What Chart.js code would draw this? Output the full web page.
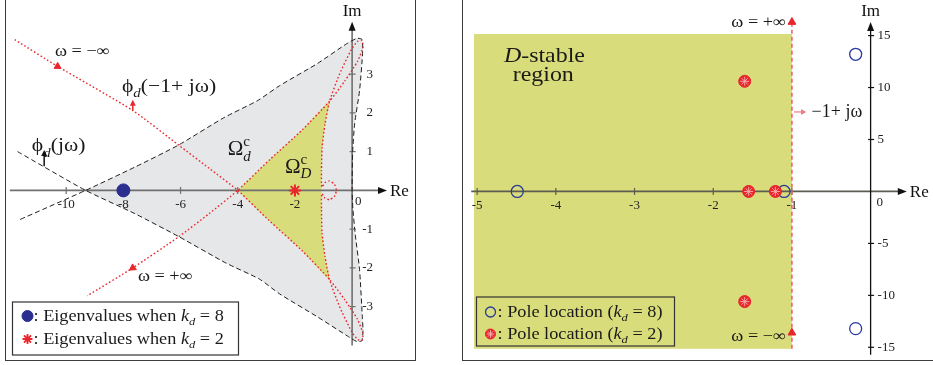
<!DOCTYPE html>
<html>
<head>
<meta charset="utf-8">
<script src="https://cdn.jsdelivr.net/npm/chart.js@4.4.1/dist/chart.umd.min.js"></script>
<style>
  html, body { margin: 0; padding: 0; background: #fff; }
  #wrap { position: relative; width: 933px; height: 365px; overflow: hidden; }
  canvas { position: absolute; top: 0; }
  #leftChart { left: 0; }
  #rightChart { left: 460px; }
  .frame { position: absolute; box-sizing: border-box; border: 1.5px solid #3c3c3c; pointer-events: none; }
</style>
</head>
<body>
<div id="wrap">
  <canvas id="leftChart" width="460" height="365"></canvas>
  <canvas id="rightChart" width="473" height="365"></canvas>
  <div class="frame" style="left:5px; top:-4px; width:411px; height:365px;"></div>
  <div class="frame" style="left:462px; top:-4px; width:480px; height:365px;"></div>
</div>
<script>
const SERIF = '"Liberation Serif", "Times New Roman", serif';
const TEXT_STRETCH = 1.14; // the serif labels run a bit wide

// ---- left plane: value sets of phi_d ----
const reTicksL = [-10, -8, -6, -4, -2];
const imTicksL = [3, 2, 1, -1, -2, -3];

// phi_d(jw), w from -inf to +inf (black dashed)
const phiJw = [
  [-11.7, 1.0], [-9.32, 0], [-7.6, -0.6], [-6.07, -1.19], [-4.4, -1.88],
  [-3.24, -2.29], [-2.54, -2.67], [-1.2, -3.27], [-0.16, -3.76], [0.16, -3.9],
  [0.34, -3.88], [0.38, -3.62], [0.36, -3.3], [0.26, -2.04], [0.12, -1.2],
  [0.03, -0.5], [0, 0], [0.02, 1.0], [0.09, 1.73], [0.26, 2.57],
  [0.37, 3.6], [0.34, 3.9], [0.16, 3.92], [-0.2, 3.78], [-1.2, 3.28],
  [-2.54, 2.7], [-3.3, 2.32], [-4.5, 1.87], [-6.07, 1.17], [-7.6, 0.6],
  [-9.32, 0], [-11.7, -0.78]
];

// phi_d(-1 + jw) (red dotted)
const phiShift = [
  [-11.8, 3.89], [-10.3, 3.2], [-7.67, 2.06], [-6.07, 1.17], [-5.0, 0.57],
  [-4, 0], [-2.9, -0.78], [-1.73, -1.57], [-0.79, -2.3], [-0.26, -2.82],
  [0.19, -3.33], [0.38, -3.7], [0.35, -3.87], [0.2, -3.85], [-0.02, -3.64],
  [-0.44, -3.0], [-0.79, -2.3], [-0.95, -1.7], [-1.05, -1.1], [-1.07, -0.5],
  [-1.06, -0.08], [-0.95, -0.2], [-0.8, -0.24], [-0.62, -0.16], [-0.55, 0],
  [-0.62, 0.16], [-0.8, 0.24], [-0.95, 0.2], [-1.06, 0.08], [-1.07, 0.5],
  [-1.05, 1.1], [-0.95, 1.7], [-0.79, 2.3], [-0.44, 3.0], [-0.02, 3.64],
  [0.2, 3.85], [0.35, 3.87], [0.38, 3.7], [0.19, 3.33], [-0.26, 2.82],
  [-0.79, 2.3], [-1.73, 1.57], [-2.9, 0.78], [-4, 0], [-5.0, -0.6],
  [-6.07, -1.2], [-7.67, -2.0], [-9.26, -2.72]
];

// boundary of Omega_D^c (yellow)
const omegaDBoundary = [
  [-4, 0], [-2.9, -0.78], [-1.73, -1.57], [-0.79, -2.3], [-0.95, -1.7],
  [-1.05, -1.1], [-1.07, -0.5], [-1.07, 0], [-1.07, 0.5], [-1.05, 1.1],
  [-0.95, 1.7], [-0.79, 2.3], [-1.73, 1.57], [-2.9, 0.78], [-4, 0]
];

const eigKd8 = [[-8, 0]];
const eigKd2 = [[-2, 0]];
const infArrowsL = [[-10.3, 3.2], [-7.67, -2.0]];
const infArrowRotL = [121, 236];

// ---- right plane: pole locations ----
const reTicksR = [-5, -4, -3, -2, -1];
const imTicksR = [15, 10, 5, -5, -10, -15];
const poleKd8 = [[-4.49, 0], [-1.1, 0], [-0.19, 13.2], [-0.19, -13.2]];
const poleKd2 = [[-1.6, 10.6], [-1.55, 0], [-1.21, 0], [-1.6, -10.6]];
const dStableRect = [[-5.04, -15.15], [-1, -15.15], [-1, 15.15], [-5.04, 15.15], [-5.04, -15.15]];
const shiftLine = [[-1, -15.15], [-1, 16.3]];
const shiftArrows = [[-1, 16.3], [-1, -13.6]];

const RED = '#e8262c';
const BLUE = '#2b2f8f';

const pts = arr => arr.map(([x, y]) => ({x, y}));

function richText(ctx, parts, x, y, size, align = 'left', sx = TEXT_STRETCH) {
  const runs = [];
  let cx = 0, supStart = null;
  for (const p of parts) {
    const [t, k] = typeof p === 'string' ? [p, ''] : p;
    const small = k.includes('sub') || k.includes('sup');
    const font = `${k.includes('it') ? 'italic ' : ''}${small ? Math.round(size * 0.7) : size}px ${SERIF}`;
    ctx.font = font;
    const w = ctx.measureText(t).width * sx;
    let start = cx;
    if (k.includes('sub') && supStart !== null) start = supStart;
    const dy = k.includes('sub') ? size * 0.28 : k.includes('sup') ? -size * 0.42 : 0;
    runs.push({t, font, x: start, dy});
    cx = Math.max(cx, start + w);
    supStart = k.includes('sup') ? start : null;
  }
  const x0 = align === 'center' ? x - cx / 2 : align === 'right' ? x - cx : x;
  ctx.textAlign = 'left';
  ctx.textBaseline = 'alphabetic';
  for (const r of runs) {
    ctx.save();
    ctx.font = r.font;
    ctx.translate(x0 + r.x, y + r.dy);
    ctx.scale(sx, 1);
    ctx.fillText(r.t, 0, 0);
    ctx.restore();
  }
  return cx;
}

function toPx(chart, re, im) {
  return [chart.scales.x.getPixelForValue(re), chart.scales.y.getPixelForValue(im)];
}

function seg(ctx, x1, y1, x2, y2) {
  ctx.beginPath(); ctx.moveTo(x1, y1); ctx.lineTo(x2, y2); ctx.stroke();
}

function drawAxes(chart, ax) {
  const ctx = chart.ctx, xs = chart.scales.x, ys = chart.scales.y;
  const x0 = xs.getPixelForValue(0), y0 = ys.getPixelForValue(0);
  const xt = xs.getPixelForValue(ax.reTo), yt = ys.getPixelForValue(ax.imTo);
  ctx.save();
  ctx.lineWidth = ax.width;
  ctx.strokeStyle = ax.reColor;
  seg(ctx, xs.getPixelForValue(ax.reFrom), y0, xt - 6, y0);
  ctx.lineWidth = ax.imWidth;
  ctx.strokeStyle = ax.imColor;
  seg(ctx, x0, ys.getPixelForValue(ax.imFrom), x0, yt + 6);

  ctx.fillStyle = '#111';
  ctx.beginPath(); ctx.moveTo(xt, y0); ctx.lineTo(xt - 9, y0 - 3.5); ctx.lineTo(xt - 9, y0 + 3.5); ctx.closePath(); ctx.fill();
  ctx.beginPath(); ctx.moveTo(x0, yt); ctx.lineTo(x0 - 3.5, yt + 9); ctx.lineTo(x0 + 3.5, yt + 9); ctx.closePath(); ctx.fill();

  ctx.lineWidth = 1.2;
  ctx.strokeStyle = ax.reColor;
  ax.reTicks.forEach(v => { const x = xs.getPixelForValue(v); seg(ctx, x, y0 - 3.5, x, y0 + 3.5); });
  ctx.strokeStyle = ax.imColor;
  ax.imTicks.forEach(v => { const y = ys.getPixelForValue(v); seg(ctx, x0 - 2.5, y, x0 + 3.5, y); });

  ctx.fillStyle = '#222';
  ctx.font = `${ax.tickSize}px ${SERIF}`;
  ctx.textBaseline = 'middle';
  ctx.textAlign = 'center';
  ax.reTicks.forEach(v => ctx.fillText(String(v), xs.getPixelForValue(v), y0 + 14));
  ctx.textAlign = ax.imAlign;
  ax.imTicks.forEach(v => ctx.fillText(String(v), x0 + ax.imLabelDx, ys.getPixelForValue(v)));
  ctx.textAlign = 'left';
  ctx.fillText('0', x0 + ax.zeroDx, y0 + 11);

  ctx.fillStyle = '#111';
  ctx.font = `17px ${SERIF}`;
  ctx.fillText('Re', xt + 3, y0 + 1);
  ctx.textAlign = 'center';
  ctx.fillText('Im', x0, yt - 10);
  ctx.restore();
}

function drawLegend(ctx, box, items) {
  ctx.save();
  if (box.fill) { ctx.fillStyle = box.fill; ctx.fillRect(box.x, box.y, box.w, box.h); }
  ctx.strokeStyle = '#333';
  ctx.lineWidth = 1.2;
  ctx.strokeRect(box.x, box.y, box.w, box.h);
  items.forEach(it => {
    it.symbol(ctx, box.x + box.symX, it.y);
    ctx.fillStyle = '#1a1a1a';
    richText(ctx, it.parts, box.x + box.textX, it.y + 5, 16);
  });
  ctx.restore();
}

function point(ctx, style, x, y) {
  ctx.save();
  ctx.fillStyle = style.fill || 'rgba(0,0,0,0)';
  ctx.strokeStyle = style.stroke || 'rgba(0,0,0,0)';
  ctx.lineWidth = style.width || 1;
  Chart.helpers.drawPoint(ctx, {pointStyle: style.pointStyle, radius: style.radius, rotation: 0, borderWidth: style.width || 1}, x, y);
  ctx.restore();
}

function normalArrow(ctx, x, y1, y2, color) {
  ctx.save();
  ctx.strokeStyle = color; ctx.fillStyle = color; ctx.lineWidth = 1.5;
  seg(ctx, x, y1, x, y2 + 4);
  ctx.beginPath(); ctx.moveTo(x, y2); ctx.lineTo(x - 3, y2 + 6); ctx.lineTo(x + 3, y2 + 6); ctx.closePath(); ctx.fill();
  ctx.restore();
}

const axesPlugin = {
  id: 'planeAxes',
  afterDatasetDraw(chart, args) {
    const ds = chart.data.datasets[args.index];
    if (ds.axesAfter) drawAxes(chart, chart.options.plugins.planeAxes);
  }
};

// ---------- left chart ----------
const leftLabels = {
  id: 'leftLabels',
  afterDatasetsDraw(chart) {
    const ctx = chart.ctx;
    ctx.save();
    ctx.fillStyle = '#1a1a1a';
    let p = toPx(chart, -10.39, 3.46);
    richText(ctx, ['ω = −∞'], p[0], p[1], 16);
    p = toPx(chart, -7.49, -2.34);
    richText(ctx, ['ω = +∞'], p[0], p[1], 16);
    p = toPx(chart, -8.05, 2.54);
    richText(ctx, ['ϕ', ['d', 'subit'], '(−1+ jω)'], p[0], p[1], 19);
    p = toPx(chart, -11.2, 1.01);
    richText(ctx, ['ϕ', ['d', 'subit'], '(jω)'], p[0], p[1], 19);
    p = toPx(chart, -4.35, 0.91);
    richText(ctx, ['Ω', ['c', 'sup'], ['d', 'subit']], p[0], p[1], 21, 'left', 1);
    p = toPx(chart, -2.35, 0.46);
    richText(ctx, ['Ω', ['c', 'sup'], ['D', 'subit']], p[0], p[1], 21, 'left', 1);

    let a = toPx(chart, -7.67, 2.06), b = toPx(chart, -7.67, 2.34);
    normalArrow(ctx, a[0], a[1], b[1], RED);
    a = toPx(chart, -10.77, 0.62); b = toPx(chart, -10.77, 1.04);
    normalArrow(ctx, a[0], a[1], b[1], '#111');

    drawLegend(ctx, {x: 12.5, y: 302, w: 226, h: 53, fill: '#fff', symX: 15, textX: 21}, [
      {y: 316, symbol: (c, x, y) => point(c, {pointStyle: 'circle', radius: 5.5, fill: BLUE, stroke: BLUE}, x, y),
       parts: [': Eigenvalues when ', ['k', 'it'], ['d', 'subit'], ' = 8']},
      {y: 339, symbol: (c, x, y) => point(c, {pointStyle: 'star', radius: 5, stroke: RED, width: 1.8}, x, y),
       parts: [': Eigenvalues when ', ['k', 'it'], ['d', 'subit'], ' = 2']}
    ]);
    ctx.restore();
  }
};

new Chart(document.getElementById('leftChart'), {
  type: 'line',
  data: {
    datasets: [
      {data: pts(phiJw.slice(1, -1)), fill: 'shape', backgroundColor: '#e6e7e9', borderWidth: 0, pointRadius: 0, tension: 0.2, order: 20},
      {data: pts(omegaDBoundary), fill: 'shape', backgroundColor: '#d9dc7a', borderWidth: 0, pointRadius: 0, tension: 0.15, order: 19, axesAfter: true},
      {data: pts(phiJw), fill: false, borderColor: '#1e1e1e', borderWidth: 1, borderDash: [5, 3], pointRadius: 0, tension: 0.2, order: 10},
      {data: pts(phiShift), fill: false, borderColor: RED, borderWidth: 1.4, borderDash: [1.6, 2.2], pointRadius: 0, tension: 0.2, order: 9},
      {data: pts(infArrowsL), showLine: false, pointStyle: 'triangle', pointRadius: 4, pointRotation: infArrowRotL,
       pointBackgroundColor: RED, pointBorderColor: RED, order: 5},
      {data: pts(eigKd8), showLine: false, pointStyle: 'circle', pointRadius: 6.5, pointBackgroundColor: BLUE, pointBorderColor: BLUE, order: 3},
      {data: pts(eigKd2), showLine: false, pointStyle: 'star', pointRadius: 6, pointBorderWidth: 2, pointBorderColor: RED, order: 2}
    ]
  },
  options: {
    responsive: false,
    animation: false,
    clip: false,
    layout: {padding: {left: 9, right: 65, top: 16, bottom: 3}},
    scales: {
      x: {type: 'linear', min: -12, max: 1.5, display: false},
      y: {type: 'linear', min: -4.3, max: 4.5, display: false}
    },
    plugins: {
      legend: {display: false},
      tooltip: {enabled: false},
      planeAxes: {
        reFrom: -11.97, reTo: 1.22, imFrom: -4.0, imTo: 4.35,
        reColor: '#707070', imColor: '#707070', width: 1.8, imWidth: 1.6,
        reTicks: reTicksL, imTicks: imTicksL, tickSize: 13,
        imAlign: 'right', imLabelDx: 21, zeroDx: 3
      }
    }
  },
  plugins: [axesPlugin, leftLabels]
});

// ---------- right chart ----------
const rightLabels = {
  id: 'rightLabels',
  afterDatasetsDraw(chart) {
    const ctx = chart.ctx;
    ctx.save();
    ctx.fillStyle = '#1a1a1a';
    let p = toPx(chart, -4.66, 12.5);
    richText(ctx, [['D', 'it'], '-stable'], p[0], p[1], 21);
    p = toPx(chart, -4.16, 10.6);
    richText(ctx, ['region'], p[0], p[1], 21, 'center');
    p = toPx(chart, -1.075, 15.83);
    richText(ctx, ['ω = +∞'], p[0], p[1], 16, 'right');
    p = toPx(chart, -1.075, -14.4);
    richText(ctx, ['ω = −∞'], p[0], p[1], 16, 'right');
    p = toPx(chart, -0.75, 7.16);
    richText(ctx, ['−1+ jω'], p[0], p[1], 18, 'left', 1);

    // normal direction of the shifted axis
    const a = toPx(chart, -1, 7.65), b = toPx(chart, -0.82, 7.65);
    ctx.strokeStyle = '#f07a7e'; ctx.fillStyle = '#f07a7e'; ctx.lineWidth = 1.2;
    seg(ctx, a[0] + 2, a[1], b[0] - 3, b[1]);
    ctx.beginPath(); ctx.moveTo(b[0], b[1]); ctx.lineTo(b[0] - 5, b[1] - 3); ctx.lineTo(b[0] - 5, b[1] + 3); ctx.closePath(); ctx.fill();

    drawLegend(ctx, {x: 16.5, y: 297, w: 198, h: 49, symX: 14, textX: 21}, [
      {y: 312, symbol: (c, x, y) => point(c, {pointStyle: 'circle', radius: 5, stroke: '#2b3a9a', width: 1.3}, x, y),
       parts: [': Pole location (', ['k', 'it'], ['d', 'subit'], ' = 8)']},
      {y: 334, symbol: (c, x, y) => {
        point(c, {pointStyle: 'circle', radius: 5, fill: RED, stroke: RED}, x, y);
        point(c, {pointStyle: 'star', radius: 3.8, stroke: '#f6b0b0', width: 0.9}, x, y);
      }, parts: [': Pole location (', ['k', 'it'], ['d', 'subit'], ' = 2)']}
    ]);
    ctx.restore();
  }
};

new Chart(document.getElementById('rightChart'), {
  type: 'line',
  data: {
    datasets: [
      {data: pts(dStableRect), fill: 'shape', backgroundColor: '#d9dc7a', borderWidth: 0, pointRadius: 0, tension: 0, order: 20, axesAfter: true},
      {data: pts(shiftLine), fill: false, borderColor: '#f06468', borderWidth: 1.6, borderDash: [4, 3], pointRadius: 0, order: 10},
      {data: pts(shiftArrows), showLine: false, pointStyle: 'triangle', pointRadius: 4.5,
       pointBackgroundColor: RED, pointBorderColor: RED, order: 5},
      {data: pts(poleKd8), showLine: false, pointStyle: 'circle', pointRadius: 6, pointBorderWidth: 1.3,
       pointBackgroundColor: 'rgba(0,0,0,0)', pointBorderColor: '#2b3a9a', order: 3},
      {data: pts(poleKd2), showLine: false, pointStyle: 'circle', pointRadius: 6,
       pointBackgroundColor: RED, pointBorderColor: RED, order: 2},
      {data: pts(poleKd2), showLine: false, pointStyle: 'star', pointRadius: 4.5, pointBorderWidth: 0.9,
       pointBorderColor: '#f6b0b0', order: 1}
    ]
  },
  options: {
    responsive: false,
    animation: false,
    clip: false,
    layout: {padding: {left: 5, right: 2, top: 20, bottom: 4}},
    scales: {
      x: {type: 'linear', min: -5.125, max: 0.7, display: false},
      y: {type: 'linear', min: -16, max: 16.5, display: false}
    },
    plugins: {
      legend: {display: false},
      tooltip: {enabled: false},
      planeAxes: {
        reFrom: -5.075, reTo: 0.46, imFrom: -15.72, imTo: 16.31,
        reColor: '#5c5c50', imColor: '#111', width: 1.8, imWidth: 1.3,
        reTicks: reTicksR, imTicks: imTicksR, tickSize: 13,
        imAlign: 'left', imLabelDx: 7, zeroDx: 6
      }
    }
  },
  plugins: [axesPlugin, rightLabels]
});
</script>
</body>
</html>
